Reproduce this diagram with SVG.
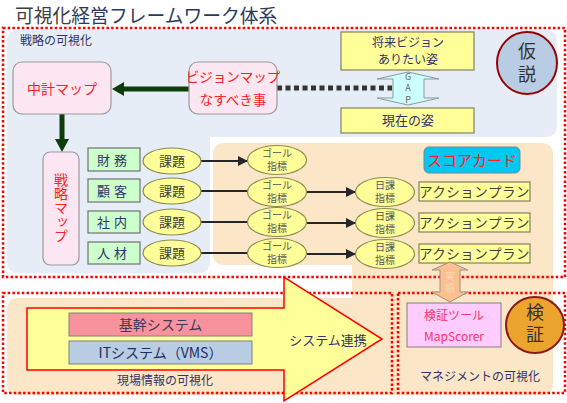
<svg xmlns="http://www.w3.org/2000/svg" width="567" height="403" viewBox="0 0 567 403">
<defs>
<style>
text{font-family:"Noto Sans CJK JP","Noto Sans",sans-serif;}
.vt{writing-mode:vertical-rl;text-orientation:upright;}
.dot{fill:none;stroke:#ff0000;stroke-width:2.5;stroke-dasharray:2.5 2.2;}
.pink{fill:#fbe6f2;stroke:#999;stroke-width:1.2;}
.yel{fill:#ffff99;stroke:#808060;stroke-width:1.2;}
.grn{fill:#ccffcc;stroke:#707070;stroke-width:1.2;}
.ell{fill:#ffff99;stroke:#8c8c50;stroke-width:1.2;}
.conn{stroke:#262626;stroke-width:2;fill:none;}
.red{fill:#ff2020;}
.navy{fill:#333366;}
.sm{font-size:10px;fill:#555;}
</style>
<marker id="ah" viewBox="0 0 10 10" refX="9" refY="5" markerWidth="5" markerHeight="5" orient="auto">
<path d="M0,0 L10,5 L0,10 Z" fill="#262626"/>
</marker>
</defs>
<rect width="567" height="403" fill="#ffffff"/>
<!-- background panels -->
<path d="M19,30 H545 Q557,30 557,42 V125 Q557,137 545,137 H210 V261 Q210,273 198,273 H19 Q7,273 7,261 V42 Q7,30 19,30 Z" fill="#e6edf7"/>
<path d="M225,143 H541 Q553,143 553,155 V383 Q553,395 541,395 H19 Q7,395 7,383 V310 Q7,298 19,298 H352 V265 H225 Q213,265 213,253 V155 Q213,143 225,143 Z" fill="#fbe6c8"/>
<!-- title -->
<text x="15" y="23" font-size="18.8" fill="#404040">可視化<tspan fill="#2a3a5a">経営フレームワーク体系</tspan></text>
<!-- dotted region boxes -->
<rect class="dot" x="3" y="28" width="562" height="249"/>
<rect class="dot" x="3" y="293" width="389" height="100"/>
<rect class="dot" x="398" y="293" width="167" height="100"/>
<text x="20" y="45" font-size="12" class="navy">戦略の可視化</text>
<!-- big yellow arrow -->
<g id="system-link">
<polygon points="27,308 284,308 284,277 382,339 284,401 284,370 27,370" fill="#ffff99" stroke="#ff0000" stroke-width="1.5"/>
<text x="328" y="345" font-size="13" text-anchor="middle" class="navy">システム連携</text>
</g>
<!-- connectors -->
<g id="connectors">
<line x1="189" y1="89" x2="122" y2="89" stroke="#0d3d0d" stroke-width="5"/>
<polygon points="112,89 124,82 124,96" fill="#0d3d0d"/>
<line x1="62" y1="114" x2="62" y2="141" stroke="#0d3d0d" stroke-width="5"/>
<polygon points="62,152 55,139 69,139" fill="#0d3d0d"/>
<line x1="277" y1="88" x2="392" y2="88" stroke="#333" stroke-width="5" stroke-dasharray="5 3.5"/>
<line class="conn" x1="201" y1="161" x2="247" y2="161" marker-end="url(#ah)"/>
<line class="conn" x1="201" y1="191" x2="248" y2="191"/>
<line class="conn" x1="201" y1="222" x2="248" y2="222"/>
<line class="conn" x1="201" y1="253" x2="248" y2="253"/>
<line class="conn" x1="307" y1="192" x2="355" y2="192" marker-end="url(#ah)"/>
<line class="conn" x1="307" y1="223" x2="355" y2="223" marker-end="url(#ah)"/>
<line class="conn" x1="307" y1="254" x2="355" y2="254" marker-end="url(#ah)"/>
</g>
<!-- nodes -->
<g id="chukei-map">
<rect class="pink" x="13" y="62" width="98" height="52" rx="9"/>
<text x="62" y="94" font-size="14" text-anchor="middle" class="red">中計マップ</text>
</g>
<g id="vision-map">
<rect class="pink" x="189" y="62" width="88" height="52" rx="9"/>
<text x="233" y="82" font-size="13.5" text-anchor="middle" class="red">ビジョンマップ<tspan x="233" dy="23">なすべき事</tspan></text>
</g>
<g id="future-vision">
<rect class="yel" x="341" y="32" width="133" height="38"/>
<text x="408" y="46.5" font-size="12" text-anchor="middle" class="navy">将来ビジョン<tspan x="408" dy="17.5">ありたい姿</tspan></text>
</g>
<g id="gap">
<polygon points="408,72 439,79 424,79 424,98 439,98 408,105 377,98 393,98 393,79 377,79" fill="#ccffff" stroke="#8a9a9a" stroke-width="1"/>
<text class="vt" x="408" y="89" font-size="9" text-anchor="middle" letter-spacing="2.5" fill="#666">GAP</text>
</g>
<g id="current">
<rect class="yel" x="341" y="108" width="133" height="25"/>
<text x="408" y="125" font-size="13" text-anchor="middle" class="navy">現在の姿</text>
</g>
<g id="hypothesis">
<ellipse cx="527" cy="63" rx="30" ry="31" fill="#b8cce4" stroke="#990000" stroke-width="2"/>
<text class="vt" x="527" y="65" font-size="18" text-anchor="middle" letter-spacing="5" fill="#333">仮説</text>
</g>
<g id="strategy-map">
<rect class="pink" x="43" y="152" width="36" height="113" rx="7"/>
<text class="vt red" x="61" y="208" font-size="14" text-anchor="middle" letter-spacing="0">戦略マップ</text>
</g>
<g id="cat-finance"><rect class="grn" x="88" y="148" width="52" height="23"/><text x="114" y="164.5" font-size="13" text-anchor="middle" class="navy" letter-spacing="4">財務</text></g>
<g id="cat-customer"><rect class="grn" x="88" y="179" width="52" height="23"/><text x="114" y="195.5" font-size="13" text-anchor="middle" class="navy" letter-spacing="4">顧客</text></g>
<g id="cat-internal"><rect class="grn" x="88" y="211" width="52" height="22"/><text x="114" y="227" font-size="13" text-anchor="middle" class="navy" letter-spacing="4">社内</text></g>
<g id="cat-people"><rect class="grn" x="88" y="242" width="52" height="22"/><text x="114" y="258" font-size="13" text-anchor="middle" class="navy" letter-spacing="4">人材</text></g>
<g id="issue-1"><ellipse class="ell" cx="172" cy="161" rx="29" ry="13"/><text x="172" y="166" font-size="13" text-anchor="middle" fill="#404040">課題</text></g>
<g id="issue-2"><ellipse class="ell" cx="172" cy="191" rx="29" ry="13"/><text x="172" y="196" font-size="13" text-anchor="middle" fill="#404040">課題</text></g>
<g id="issue-3"><ellipse class="ell" cx="172" cy="222" rx="29" ry="13"/><text x="172" y="227" font-size="13" text-anchor="middle" fill="#404040">課題</text></g>
<g id="issue-4"><ellipse class="ell" cx="172" cy="253" rx="29" ry="13"/><text x="172" y="258" font-size="13" text-anchor="middle" fill="#404040">課題</text></g>
<g id="goal-1"><ellipse class="ell" cx="277" cy="160" rx="29.5" ry="14.5"/><text class="sm" x="277" y="156.5" text-anchor="middle">ゴール<tspan x="277" dy="13.5">指標</tspan></text></g>
<g id="goal-2"><ellipse class="ell" cx="277" cy="192" rx="29.5" ry="14.5"/><text class="sm" x="277" y="188.5" text-anchor="middle">ゴール<tspan x="277" dy="13.5">指標</tspan></text></g>
<g id="goal-3"><ellipse class="ell" cx="277" cy="222" rx="29.5" ry="14.5"/><text class="sm" x="277" y="218.5" text-anchor="middle">ゴール<tspan x="277" dy="13.5">指標</tspan></text></g>
<g id="goal-4"><ellipse class="ell" cx="277" cy="253" rx="29.5" ry="14.5"/><text class="sm" x="277" y="249.5" text-anchor="middle">ゴール<tspan x="277" dy="13.5">指標</tspan></text></g>
<g id="daily-1"><ellipse class="ell" cx="385" cy="192" rx="29.5" ry="14.5"/><text class="sm" x="385" y="188.5" text-anchor="middle">日課<tspan x="385" dy="13.5">指標</tspan></text></g>
<g id="daily-2"><ellipse class="ell" cx="385" cy="223" rx="29.5" ry="14.5"/><text class="sm" x="385" y="219.5" text-anchor="middle">日課<tspan x="385" dy="13.5">指標</tspan></text></g>
<g id="daily-3"><ellipse class="ell" cx="385" cy="254" rx="29.5" ry="14.5"/><text class="sm" x="385" y="250.5" text-anchor="middle">日課<tspan x="385" dy="13.5">指標</tspan></text></g>
<g id="scorecard">
<rect x="424" y="147" width="96" height="26" rx="5" fill="#00c8f0" stroke="#6a8a9a" stroke-width="1"/>
<text x="472" y="166" font-size="15" text-anchor="middle" class="red">スコアカード</text>
</g>
<g id="action-1"><rect class="yel" x="419" y="182" width="111" height="19"/><text x="474.5" y="197" font-size="13.5" text-anchor="middle" fill="#404040" letter-spacing="0.5">アクションプラン</text></g>
<g id="action-2"><rect class="yel" x="419" y="213" width="111" height="19"/><text x="474.5" y="228" font-size="13.5" text-anchor="middle" fill="#404040" letter-spacing="0.5">アクションプラン</text></g>
<g id="action-3"><rect class="yel" x="419" y="244" width="111" height="19"/><text x="474.5" y="259" font-size="13.5" text-anchor="middle" fill="#404040" letter-spacing="0.5">アクションプラン</text></g>
<g id="results">
<polygon points="450,262 468,270 460,270 460,292 468,292 450,302 432,292 440,292 440,270 432,270" fill="#fac090" stroke="#a09080" stroke-width="1"/>
<text class="vt" x="450" y="283" font-size="10" text-anchor="middle" letter-spacing="2" fill="#fbd6b0">実績</text>
</g>
<g id="core-system">
<rect x="69" y="313" width="183" height="23" fill="#f8939e" stroke="#808080" stroke-width="1"/>
<text x="160.5" y="330" font-size="14" text-anchor="middle" fill="#3a3a5a">基幹システム</text>
</g>
<g id="it-system">
<rect x="69" y="341" width="183" height="23" fill="#b8cce4" stroke="#808080" stroke-width="1"/>
<text x="160.5" y="358" font-size="14" text-anchor="middle" fill="#1f2f5f">ITシステム（VMS）</text>
</g>
<text x="165" y="385" font-size="12" text-anchor="middle" class="navy">現場情報の可視化</text>
<g id="verify-tool">
<rect x="407" y="303" width="94" height="44" fill="#ffccff" stroke="#808080" stroke-width="1"/>
<text x="454" y="320" font-size="12" text-anchor="middle" fill="#ff3366">検証ツール<tspan x="454" dy="21">MapScorer</tspan></text>
</g>
<g id="verification">
<ellipse cx="535" cy="325" rx="29" ry="28" fill="#eba52f" stroke="#8b1a1a" stroke-width="2"/>
<text class="vt" x="535" y="325" font-size="18" text-anchor="middle" letter-spacing="4" fill="#333">検証</text>
</g>
<text x="480" y="381" font-size="12" text-anchor="middle" class="navy">マネジメントの可視化</text>
</svg>
